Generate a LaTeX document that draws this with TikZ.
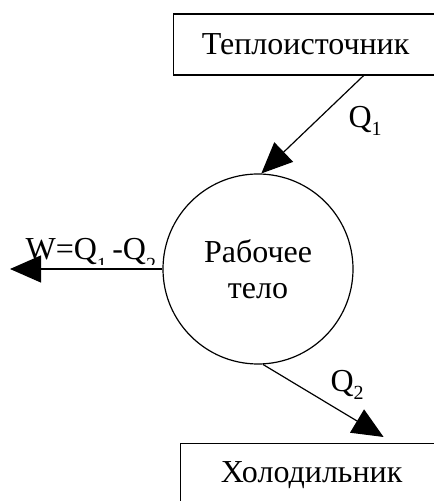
\documentclass[tikz,border=0pt]{standalone}
\usepackage{fontspec}
\setmainfont{Liberation Serif}
\usetikzlibrary{arrows.meta}
\newcommand{\lowsub}[2][8pt]{\raisebox{-#1}{\fontsize{20}{22}\selectfont #2}}

\begin{document}
\begin{tikzpicture}[x=1pt, y=1pt, line width=1.2pt,
  txt/.style={font=\fontsize{32}{36}\selectfont},
  flow/.style={-{Triangle[length=31pt,width=27pt]}}]
\clip (0,0) rectangle (434,501);
\node (heater) [rectangle, draw, txt, anchor=west, minimum width=264pt, minimum height=61pt] at (173,456.5) {Теплоисточник};
\node (body) [circle, draw, txt, align=center, minimum size=190pt, inner sep=0pt] at (258,232) {Рабочее\\тело};
\node (cooler) [rectangle, draw, txt, anchor=north west, minimum width=262pt, minimum height=64pt] at (180,58) {Холодильник};
\coordinate (wend) at (10,232);

\draw[flow] ([xshift=58pt]heater.south) -- (body.88);
\draw[flow] (body.273) -- ([xshift=72pt,yshift=6pt]cooler.north);
\draw[flow] (body.west) -- (wend);

\node (q1) [txt, anchor=base west, inner sep=0pt] at (348,373) {Q\lowsub{1}};
\node (q2) [txt, anchor=base west, inner sep=0pt] at (330,109) {Q\lowsub{2}};
\begin{scope}
\clip (0,236) rectangle (170,300);
\node (work) [txt, anchor=base west, inner sep=0pt] at (25,241) {W=Q\lowsub[12pt]{1}\,-Q\lowsub[12pt]{2}};
\end{scope}
\end{tikzpicture}
\end{document}
